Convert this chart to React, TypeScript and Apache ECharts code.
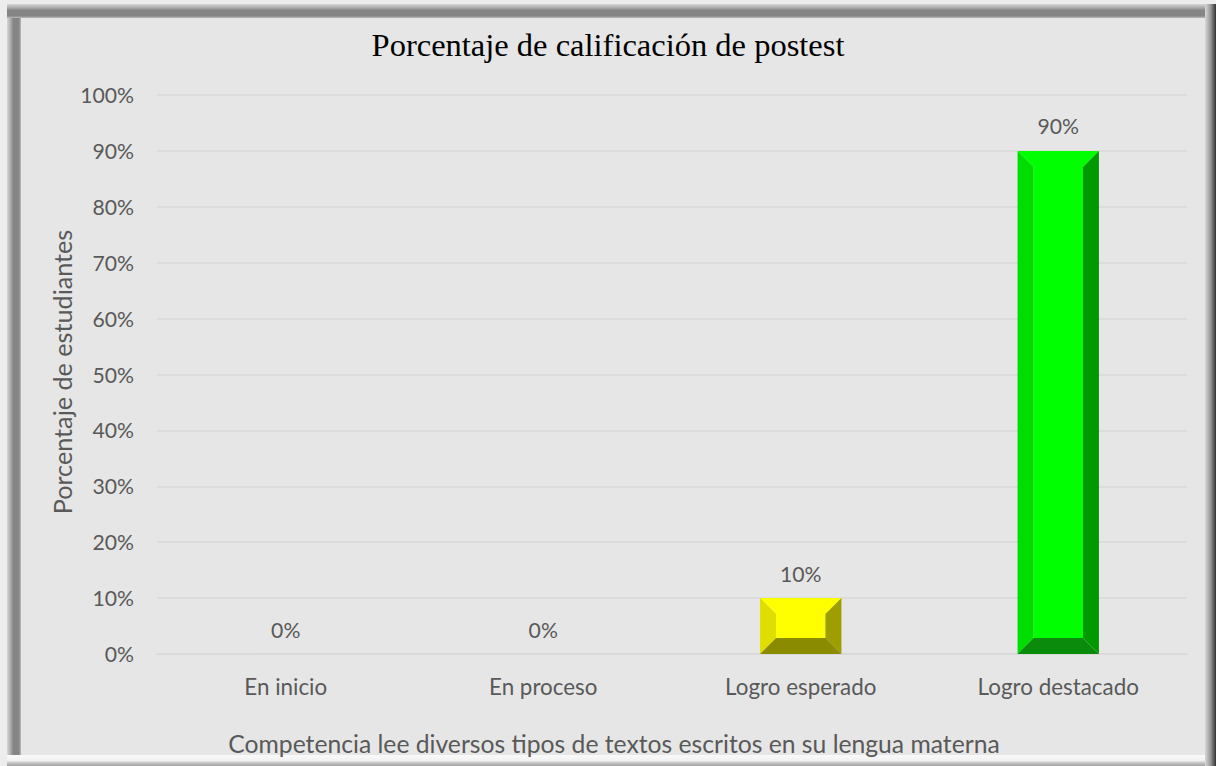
import React, { useEffect, useRef } from "react";
import * as echarts from "echarts";

const categories = ["En inicio", "En proceso", "Logro esperado", "Logro destacado"];
const values = [0, 0, 10, 90];
const yTicks = [0, 10, 20, 30, 40, 50, 60, 70, 80, 90, 100];
const chartTitle = "Porcentaje de calificación de postest";
const xTitle = "Competencia lee diversos tipos de textos escritos en su lengua materna";
const yTitle = "Porcentaje de estudiantes";

// bevel shades per category: face, top, left, right, bottom
const shades = [
  ["#FFFF00", "#FFFF00", "#DEDE00", "#9E9E00", "#8B8B00"],
  ["#FFFF00", "#FFFF00", "#DEDE00", "#9E9E00", "#8B8B00"],
  ["#FFFF00", "#FFFF00", "#DEDE00", "#9E9E00", "#8B8B00"],
  ["#00FF00", "#00FF00", "#00DD00", "#009A00", "#0B8B0B"],
];

const FONT = "Lato, 'Open Sans', sans-serif";
const TXT = "#595959";

export default function App() {
  const ref = useRef<HTMLDivElement>(null);
  useEffect(() => {
    if (!ref.current) return;
    const chart = echarts.init(ref.current, null, { renderer: "svg" });
    const lin = (x1: number, y1: number, x2: number, y2: number, stops: [number, string][]) =>
      new echarts.graphic.LinearGradient(x1, y1, x2, y2, stops.map(([offset, color]) => ({ offset, color })));
    chart.setOption({
      animation: false,
      backgroundColor: "#ededed",
      title: {
        text: chartTitle,
        left: "center",
        top: 23,
        textStyle: { fontFamily: "'Liberation Serif', 'Times New Roman', serif", fontSize: 32.5, fontWeight: "normal", color: "#000000" },
      },
      graphic: [
        { type: "rect", z: -10, shape: { x: 7, y: 4, width: 14, height: 752 }, style: { fill: lin(0, 0, 1, 0, [[0, "#d8d8d8"], [0.3, "#a4a4a4"], [0.45, "#858585"], [0.85, "#858585"], [1, "#bcbcbc"]]) } },
        { type: "rect", z: -10, shape: { x: 7, y: 4, width: 1200, height: 14 }, style: { fill: lin(0, 0, 0, 1, [[0, "#d8d8d8"], [0.3, "#a4a4a4"], [0.45, "#858585"], [0.85, "#858585"], [1, "#bcbcbc"]]) } },
        { type: "rect", z: -10, shape: { x: 1205, y: 4, width: 11, height: 762 }, style: { fill: lin(0, 0, 1, 0, [[0, "#d8d8d8"], [0.5, "#9a9a9a"], [1, "#333333"]]) } },
        { type: "rect", z: -10, shape: { x: 7, y: 755, width: 1198, height: 11 }, style: { fill: lin(0, 0, 0, 1, [[0, "#fafafa"], [0.5, "#f2f2f2"], [0.7, "#c8c8c8"], [1, "#a0a0a0"]]) } },
        { type: "rect", z: -9, shape: { x: 21, y: 18, width: 1184, height: 737 }, style: { fill: "#e6e6e6" } },
        {
          type: "text", x: 614, y: 743, z: 5,
          style: { text: xTitle, fontFamily: FONT, fontSize: 24.7, fill: TXT, align: "center", verticalAlign: "middle" },
        },
        {
          type: "text", x: 62, y: 372, rotation: Math.PI / 2, z: 5,
          style: { text: yTitle, fontFamily: FONT, fontSize: 25.2, fill: TXT, align: "center", verticalAlign: "middle" },
        },
      ],
      grid: { left: 157, right: 29, top: 95, bottom: 112 },
      xAxis: {
        type: "category",
        data: categories,
        axisLine: { lineStyle: { color: "#d9d9d9", width: 1.5 } },
        axisTick: { show: false },
        axisLabel: { fontFamily: FONT, fontSize: 22.4, color: TXT, margin: 21 },
      },
      yAxis: {
        type: "value",
        min: yTicks[0],
        max: yTicks[yTicks.length - 1],
        interval: yTicks[1] - yTicks[0],
        axisLine: { show: false },
        axisTick: { show: false },
        splitLine: { lineStyle: { color: "#d9d9d9", width: 1.5 } },
        axisLabel: { fontFamily: FONT, fontSize: 21.2, color: TXT, margin: 23, formatter: "{value}%" },
      },
      series: [
        {
          type: "bar",
          data: values,
          barWidth: "31.6%",
          itemStyle: { color: "rgba(0,0,0,0)" },
          label: { show: true, position: "top", distance: 14, formatter: "{c}%", fontFamily: FONT, fontSize: 21.2, color: TXT },
          z: 3,
        },
        {
          type: "custom",
          data: values.map((v, i) => [i, v]),
          encode: { x: 0, y: 1 },
          z: 2,
          renderItem: (params: any, api: any) => {
            const idx = params.dataIndex;
            const v = api.value(1);
            const base = api.coord([idx, 0]);
            const top = api.coord([idx, v]);
            const bandW = api.size([1, 0])[0];
            const w = bandW * 0.316;
            const x0 = base[0] - w / 2, x1 = base[0] + w / 2;
            const y0 = top[1], y1 = base[1];
            const h = y1 - y0;
            if (h <= 0.5) return { type: "group", children: [] };
            const b = Math.min(16, h / 2, w / 2);
            const c = shades[idx];
            const poly = (pts: number[][], fill: string) => ({ type: "polygon", shape: { points: pts }, style: { fill } });
            return {
              type: "group",
              children: [
                poly([[x0 + b, y0 + b], [x1 - b, y0 + b], [x1 - b, y1 - b], [x0 + b, y1 - b]], c[0]),
                poly([[x0, y0], [x1, y0], [x1 - b, y0 + b], [x0 + b, y0 + b]], c[1]),
                poly([[x0, y0], [x0 + b, y0 + b], [x0 + b, y1 - b], [x0, y1]], c[2]),
                poly([[x1, y0], [x1, y1], [x1 - b, y1 - b], [x1 - b, y0 + b]], c[3]),
                poly([[x0, y1], [x1, y1], [x1 - b, y1 - b], [x0 + b, y1 - b]], c[4]),
              ],
            };
          },
        },
      ],
    });
    return () => chart.dispose();
  }, []);
  return (
    <div style={{ position: "fixed", left: 0, top: 0, width: 1216, height: 766 }}>
      <div ref={ref} style={{ width: 1216, height: 766 }} />
    </div>
  );
}
